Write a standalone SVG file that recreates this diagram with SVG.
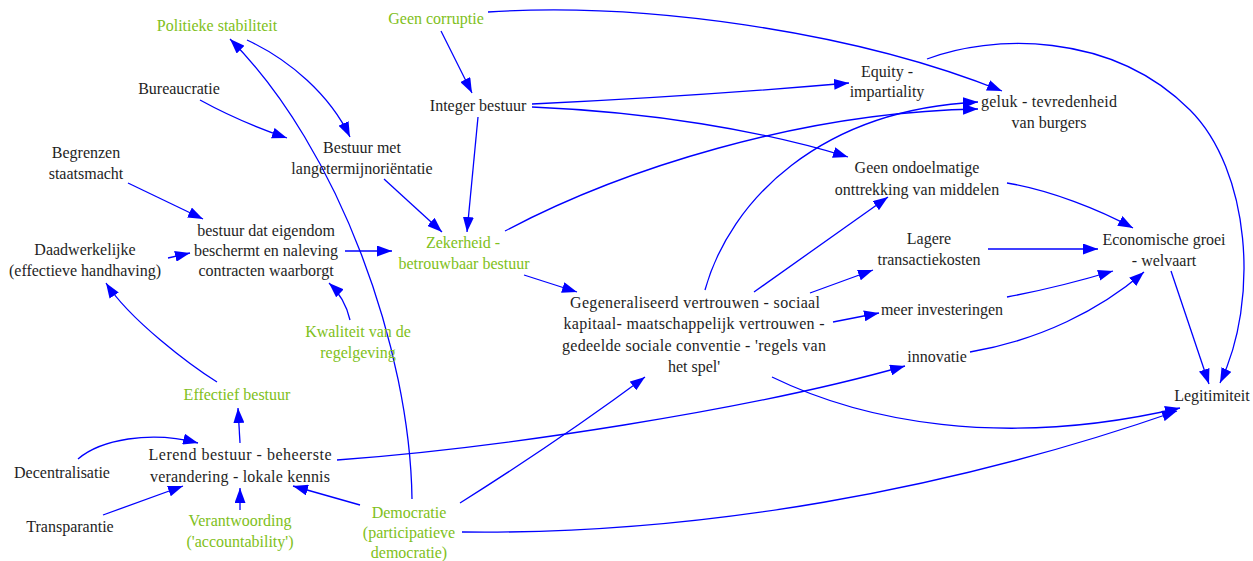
<svg xmlns="http://www.w3.org/2000/svg" width="1253" height="561" viewBox="0 0 1253 561">
<style>
.t{font-family:'Liberation Serif','DejaVu Serif',serif;font-size:16px;fill:#1e1e1e;text-anchor:middle}
.g{fill:#80c020}
.e{fill:none;stroke:#0000ff;stroke-width:1.3;marker-end:url(#ah)}
</style>
<defs>
<marker id="ah" markerUnits="userSpaceOnUse" markerWidth="15" markerHeight="11" viewBox="0 0 15 11" refX="15" refY="5.5" orient="auto">
<path d="M0,0 L15,5.5 L0,11 z" fill="#0000ff"/>
</marker>
</defs>
<rect width="1253" height="561" fill="#ffffff"/>
<g id="connectors">
<path class="e" d="M247,40 C290,60 330,95 350,137"/>
<path class="e" d="M412,499 C410,350 340,150 230,39"/>
<path class="e" d="M200,100 Q240,122 287,138"/>
<path class="e" d="M128,183 L203,219"/>
<path class="e" d="M168,258 L190,253"/>
<path class="e" d="M345,251 L392,251"/>
<path class="e" d="M350,320 Q345,298 329,283"/>
<path class="e" d="M384,179 L442,232"/>
<path class="e" d="M441,31 L472,93"/>
<path class="e" d="M478,117 L467,232"/>
<path class="e" d="M532,104 Q700,96 849,83"/>
<path class="e" d="M532,107 C650,112 760,130 848,157"/>
<path class="e" d="M488,12 C640,2 850,30 1002,91"/>
<path class="e" d="M505,231 C620,170 800,112 978,109"/>
<path class="e" d="M705,290 C730,200 820,110 978,102"/>
<path class="e" d="M927,59 C990,35 1110,30 1190,110 C1250,170 1260,300 1220,383"/>
<path class="e" d="M1007,183 C1050,190 1100,210 1133,228"/>
<path class="e" d="M988,249 L1098,249"/>
<path class="e" d="M1007,297 Q1060,287 1113,271"/>
<path class="e" d="M970,352 C1040,340 1100,310 1144,272"/>
<path class="e" d="M1171,271 L1209,384"/>
<path class="e" d="M754,292 L888,197"/>
<path class="e" d="M810,293 L873,270"/>
<path class="e" d="M833,322 L879,313"/>
<path class="e" d="M524,275 L577,292"/>
<path class="e" d="M772,377 C860,420 1000,450 1180,408"/>
<path class="e" d="M462,532 C700,535 950,490 1177,411"/>
<path class="e" d="M460,503 Q560,440 645,377"/>
<path class="e" d="M337,460 C500,448 750,410 905,366"/>
<path class="e" d="M217,382 C190,365 130,320 106,283"/>
<path class="e" d="M240,443 L238,408"/>
<path class="e" d="M78,459 C100,440 150,430 198,443"/>
<path class="e" d="M103,515 L183,486"/>
<path class="e" d="M240,510 L240,488"/>
<path class="e" d="M360,505 L293,486"/>
</g>
<g id="n1"><text class="t g" x="217" y="31">Politieke stabiliteit</text></g>
<g id="n2"><text class="t g" x="436" y="24">Geen corruptie</text></g>
<g id="n3"><text class="t" x="179" y="94">Bureaucratie</text></g>
<g id="n4"><text class="t" x="478" y="111">Integer bestuur</text></g>
<g id="n5"><text class="t" x="887" y="77">Equity -</text><text class="t" x="887" y="97">impartiality</text></g>
<g id="n6"><text class="t" x="1049" y="107" textLength="136">geluk - tevredenheid</text><text class="t" x="1049" y="128">van burgers</text></g>
<g id="n7"><text class="t" x="86" y="158">Begrenzen</text><text class="t" x="86" y="179">staatsmacht</text></g>
<g id="n8"><text class="t" x="362" y="153">Bestuur met</text><text class="t" x="362" y="174">langetermijnoriëntatie</text></g>
<g id="n9"><text class="t" x="917" y="173">Geen ondoelmatige</text><text class="t" x="917" y="195">onttrekking van middelen</text></g>
<g id="n10"><text class="t" x="266" y="236">bestuur dat eigendom</text><text class="t" x="266" y="256">beschermt en naleving</text><text class="t" x="266" y="276">contracten waarborgt</text></g>
<g id="n11"><text class="t" x="85" y="255">Daadwerkelijke</text><text class="t" x="85" y="276">(effectieve handhaving)</text></g>
<g id="n12"><text class="t g" x="463" y="248">Zekerheid -</text><text class="t g" x="464" y="269">betrouwbaar bestuur</text></g>
<g id="n13"><text class="t" x="929" y="244">Lagere</text><text class="t" x="929" y="265">transactiekosten</text></g>
<g id="n14"><text class="t" x="1164" y="245">Economische groei</text><text class="t" x="1164" y="266">- welvaart</text></g>
<g id="n15"><text class="t" x="695" y="308" textLength="250">Gegeneraliseerd vertrouwen - sociaal</text><text class="t" x="694" y="329" textLength="261">kapitaal- maatschappelijk vertrouwen -</text><text class="t" x="694" y="351" textLength="264">gedeelde sociale conventie - 'regels van</text><text class="t" x="694" y="372">het spel'</text></g>
<g id="n16"><text class="t g" x="358" y="337">Kwaliteit van de</text><text class="t g" x="358" y="358">regelgeving</text></g>
<g id="n17"><text class="t" x="942" y="315">meer investeringen</text></g>
<g id="n18"><text class="t" x="937" y="362">innovatie</text></g>
<g id="n19"><text class="t" x="1212" y="401">Legitimiteit</text></g>
<g id="n20"><text class="t g" x="237" y="400">Effectief bestuur</text></g>
<g id="n21"><text class="t" x="240" y="460" textLength="183">Lerend bestuur - beheerste</text><text class="t" x="240" y="482" textLength="180">verandering - lokale kennis</text></g>
<g id="n22"><text class="t" x="62" y="478">Decentralisatie</text></g>
<g id="n23"><text class="t" x="70" y="532">Transparantie</text></g>
<g id="n24"><text class="t g" x="240" y="526">Verantwoording</text><text class="t g" x="240" y="547">('accountability')</text></g>
<g id="n25"><text class="t g" x="409" y="518">Democratie</text><text class="t g" x="409" y="538">(participatieve</text><text class="t g" x="409" y="558">democratie)</text></g>
</svg>
